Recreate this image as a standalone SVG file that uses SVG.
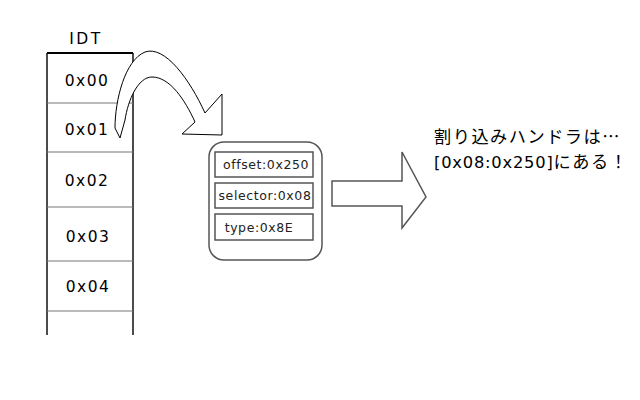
<svg xmlns="http://www.w3.org/2000/svg" width="640" height="400" viewBox="0 0 640 400">
<defs>
<style>
.lbl{font-family:"DejaVu Sans",Verdana,sans-serif;font-size:15.5px;letter-spacing:1.4px;fill:#000;text-anchor:middle}
.fld{font-family:"DejaVu Sans",Verdana,sans-serif;font-size:12.5px;letter-spacing:0.6px;fill:#222;text-anchor:middle}
.jp{font-family:"Noto Sans CJK JP",sans-serif;font-size:17.2px;letter-spacing:1.5px;fill:#000}
.lat{font-family:"DejaVu Sans",sans-serif;font-size:16.3px;letter-spacing:0.8px}
.sep{stroke:#777;stroke-width:1.2}
.inner{fill:#fff;stroke:#555;stroke-width:1.5}
</style>
</defs>
<rect width="640" height="400" fill="#fff"/>
<g id="idt">
<text class="lbl" x="86" y="44" font-size="16.5" style="letter-spacing:2.5px">IDT</text>
<line x1="47" y1="53" x2="133" y2="53" stroke="#000" stroke-width="2"/>
<line x1="47" y1="53" x2="47" y2="335" stroke="#111" stroke-width="1.5"/>
<line x1="133" y1="53" x2="133" y2="335" stroke="#111" stroke-width="1.5"/>
<line class="sep" x1="47" y1="103" x2="133" y2="103"/>
<line class="sep" x1="47" y1="152" x2="133" y2="152"/>
<line class="sep" x1="47" y1="207" x2="133" y2="207"/>
<line class="sep" x1="47" y1="261" x2="133" y2="261"/>
<line class="sep" x1="47" y1="311" x2="133" y2="311"/>
<text class="lbl" x="87" y="86">0x00</text>
<text class="lbl" x="87" y="135">0x01</text>
<text class="lbl" x="87" y="186">0x02</text>
<text class="lbl" x="88" y="242">0x03</text>
<text class="lbl" x="88" y="292">0x04</text>
</g>
<g id="connectors">
<path d="M120,138 L115,128 C115,100 125,60 145,52 C165,45 190,80 205,113 L222,94 L222,135 L182,134 L195,122 C185,100 170,77 152,77 C138,77 128,100 125,120 Z" fill="#fff" stroke="#000" stroke-width="1"/>
<path d="M332,181 L402,181 L402,152 L426,197 L402,228 L402,206 L332,206 Z" fill="#fff" stroke="#555" stroke-width="1.5"/>
</g>
<g id="descriptor">
<rect x="209" y="142" width="113" height="118" rx="15" ry="15" fill="#fff" stroke="#555" stroke-width="1.5"/>
<rect class="inner" x="215" y="152" width="98" height="25"/>
<rect class="inner" x="215" y="183" width="98" height="25"/>
<rect class="inner" x="215" y="214" width="98" height="26"/>
<text class="fld" x="266" y="169">offset:0x250</text>
<text class="fld" x="265" y="200">selector:0x08</text>
<text class="fld" x="259" y="232">type:0x8E</text>
</g>
<g id="note">
<text class="jp" x="434" y="142.5">割り込みハンドラは…</text>
<text class="jp" x="434" y="167.5"><tspan class="lat">[0x08:0x250]</tspan>にある！</text>
</g>
</svg>
